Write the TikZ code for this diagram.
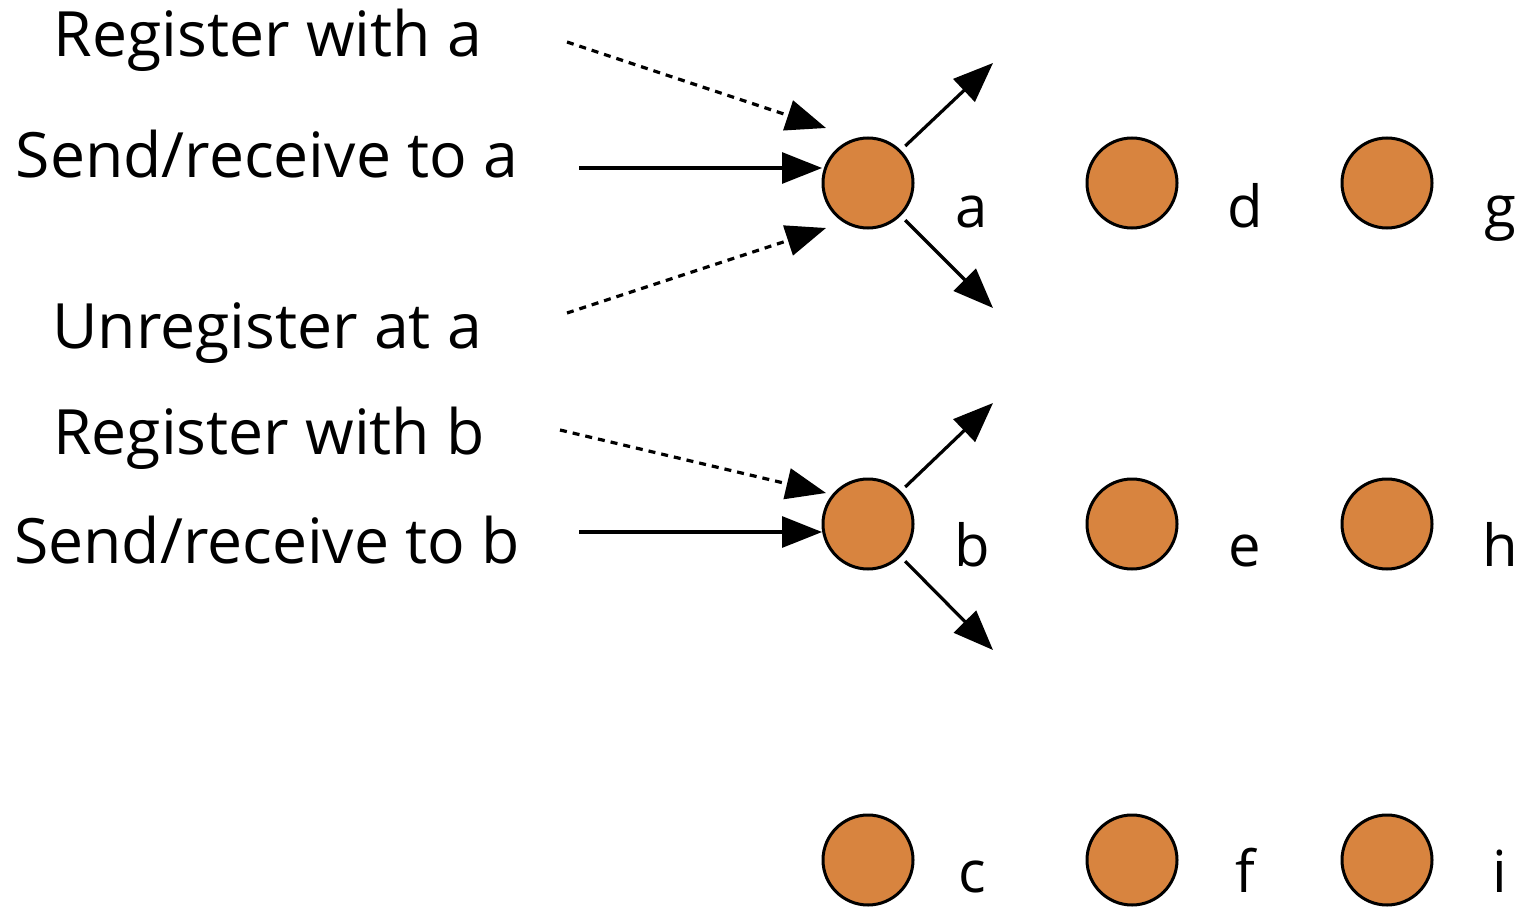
\documentclass[tikz,border=0pt]{standalone}
\usepackage{fontspec}
\setmainfont{Open Sans}
\usetikzlibrary{arrows.meta}
\definecolor{peer}{HTML}{D8843F}
\tikzset{
  peernode/.style={circle, draw=black, line width=3pt, fill=peer, minimum size=90pt, inner sep=0pt},
  peerlabel/.style={font=\fontsize{58}{66}\selectfont, anchor=base, inner sep=0pt},
  action/.style={font=\fontsize{62.5}{72}\selectfont, anchor=base, inner sep=0pt},
  msg/.style={line width=3.2pt, -{Triangle[length=40pt, width=31pt]}},
  ctrl/.style={msg, dash pattern=on 7pt off 6pt},
}
\begin{document}
\begin{tikzpicture}[x=1pt, y=-1pt]
\useasboundingbox (0,0) rectangle (1523,907);
% peers, three columns
\node[peernode] (a) at (868,183) {};
\node[peernode] (d) at (1132,183) {};
\node[peernode] (g) at (1387,183) {};
\node[peernode] (b) at (868,524) {};
\node[peernode] (e) at (1132,524) {};
\node[peernode] (h) at (1387,524) {};
\node[peernode] (c) at (868,860) {};
\node[peernode] (f) at (1132,860) {};
\node[peernode] (i) at (1387,860) {};
% peer names
\node[peerlabel] (la) at (972,227) {a};
\node[peerlabel] (ld) at (1245,227) {d};
\node[peerlabel] (lg) at (1500,227) {g};
\node[peerlabel] (lb) at (972,566) {b};
\node[peerlabel] (le) at (1245,566) {e};
\node[peerlabel] (lh) at (1500,566) {h};
\node[peerlabel] (lc) at (972,892) {c};
\node[peerlabel] (lf) at (1245,892) {f};
\node[peerlabel] (li) at (1500,892) {i};
% client actions
\node[action] (t1) at (268,57) {Register with a};
\node[action] (t2) at (267,177) {Send/receive to a};
\node[action] (t3) at (267,348) {Unregister at a};
\node[action] (t4) at (269,454) {Register with b};
\node[action] (t5) at (267,563) {Send/receive to b};
% connector end points
\coordinate (s1) at (567,42);  \coordinate (e1) at (826,128);
\coordinate (s2) at (579,168); \coordinate (e2) at (822,168);
\coordinate (s3) at (567,313); \coordinate (e3) at (826,228);
\coordinate (s4) at (560,430); \coordinate (e4) at (826,493);
\coordinate (s5) at (579,532); \coordinate (e5) at (822,532);
\coordinate (oa1) at (993,63);  \coordinate (oa2) at (993,308);
\coordinate (ob1) at (993,403); \coordinate (ob2) at (993,650);
% requests into a and b
\draw[ctrl] (s1) -- (e1);
\draw[msg] (s2) -- (e2);
\draw[ctrl] (s3) -- (e3);
\draw[ctrl] (s4) -- (e4);
\draw[msg] (s5) -- (e5);
% forwarding out of a and b
\draw[msg, shorten <=6pt] (a.45) -- (oa1);
\draw[msg, shorten <=6pt] (a.-45) -- (oa2);
\draw[msg, shorten <=6pt] (b.45) -- (ob1);
\draw[msg, shorten <=6pt] (b.-45) -- (ob2);
\end{tikzpicture}
\end{document}
